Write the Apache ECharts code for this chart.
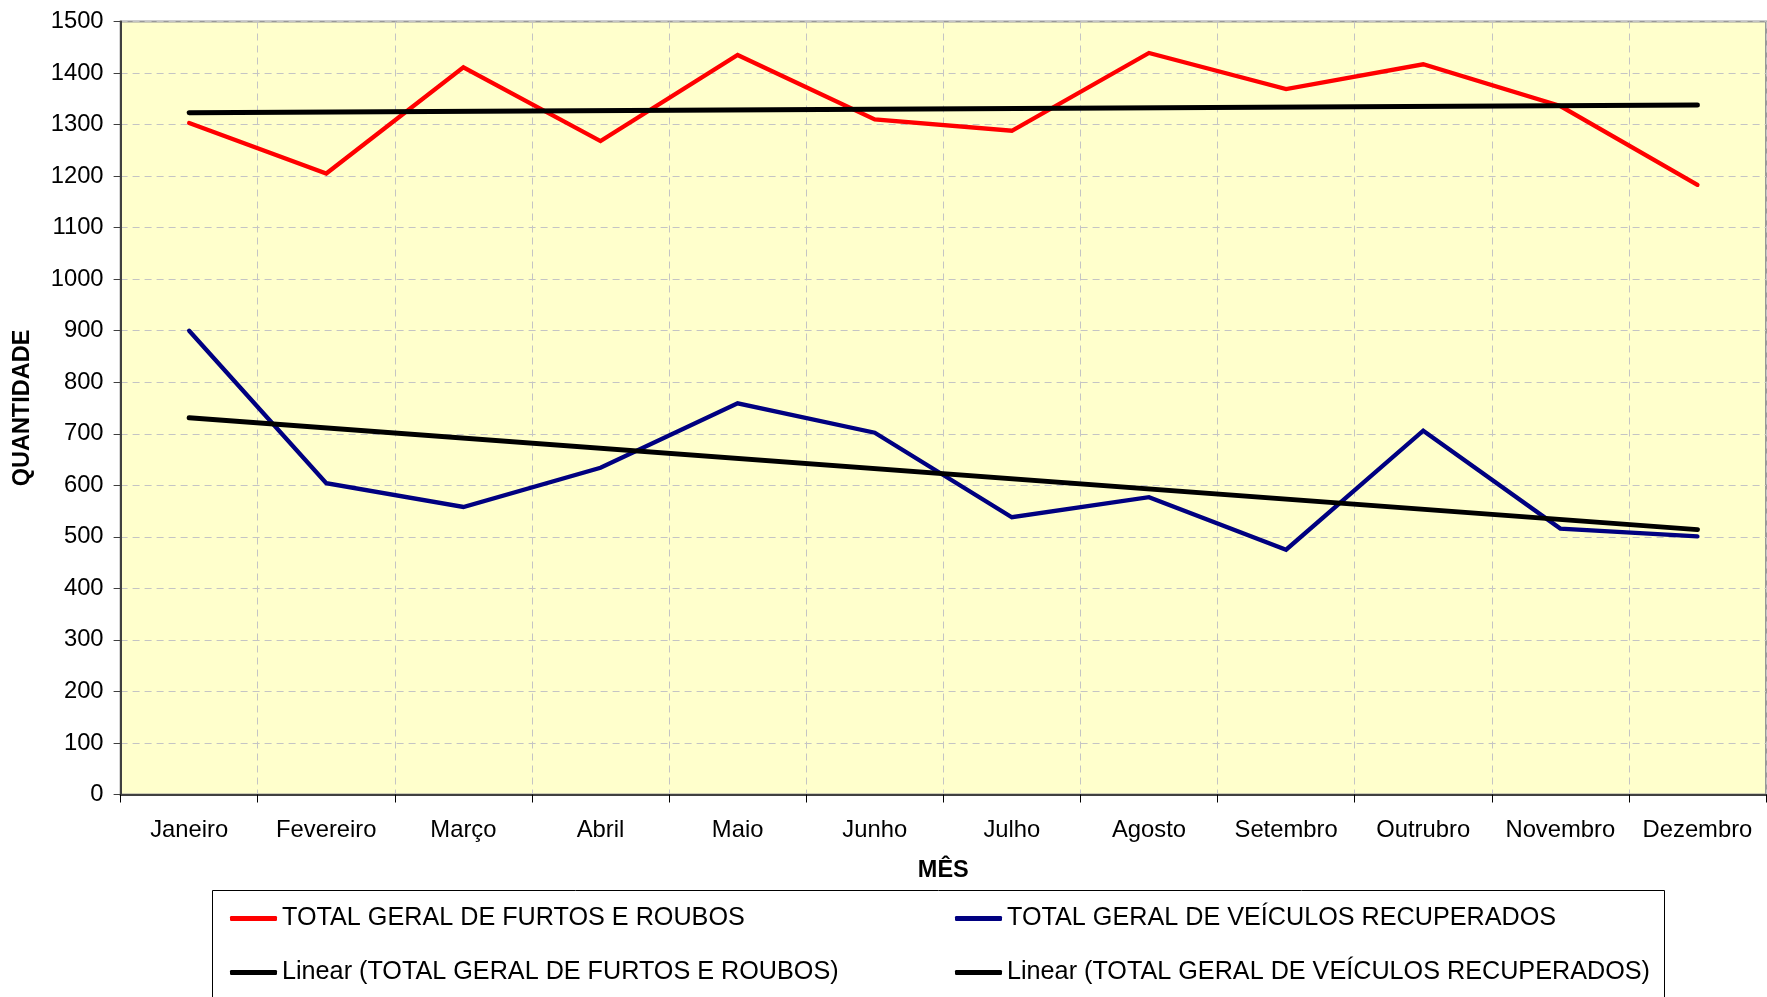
<!DOCTYPE html>
<html>
<head>
<meta charset="utf-8">
<script src="https://cdn.jsdelivr.net/npm/echarts@6/dist/echarts.min.js"></script>
<style>
html,body{margin:0;padding:0;background:#fff;}
#chart{width:1767px;height:997px;}
</style>
</head>
<body>
<div id="chart"></div>
<script>
const months = ['Janeiro','Fevereiro','Março','Abril','Maio','Junho','Julho','Agosto','Setembro','Outrubro','Novembro','Dezembro'];
const furtosRoubos = [1303,1205,1411,1268,1435,1310,1288,1439,1369,1417,1336,1183];
const veiculosRecuperados = [900,604,558,634,759,702,538,577,475,706,516,501];
// trend line endpoints (Janeiro, Dezembro)
const trendFurtos = [1323,1338];
const trendRecuperados = [731,514];
const yTicks = {min:0, max:1500, interval:100};

const nameA = 'TOTAL GERAL DE FURTOS E ROUBOS';
const nameB = 'TOTAL GERAL DE VEÍCULOS RECUPERADOS';
const nameTA = 'Linear (TOTAL GERAL DE FURTOS E ROUBOS)';
const nameTB = 'Linear (TOTAL GERAL DE VEÍCULOS RECUPERADOS)';

const FONT = 'Liberation Sans, Arial, sans-serif';
const chart = echarts.init(document.getElementById('chart'), null, {renderer:'canvas'});
const last = months.length - 1;

const legendCommon = {
  orient:'vertical', top:904.5, padding:0, itemWidth:47, itemHeight:5, itemGap:26, icon:'roundRect',
  selectedMode:false,
  textStyle:{fontFamily:FONT, fontSize:25.2, color:'#000', lineHeight:28}
};

chart.setOption({
  animation:false,
  backgroundColor:'#ffffff',
  grid:{left:120.6, right:1, top:21.5, bottom:202.5, show:true, backgroundColor:'#FFFFCC', borderColor:'#999999', borderWidth:2},
  xAxis:{
    type:'category', data:months, boundaryGap:true,
    name:'MÊS', nameLocation:'middle', nameGap:64,
    nameTextStyle:{fontFamily:FONT, fontSize:23.5, fontWeight:'bold', color:'#000'},
    axisLine:{lineStyle:{color:'#404040', width:2}},
    axisTick:{show:true, length:8, lineStyle:{color:'#000', width:1}},
    axisLabel:{fontFamily:FONT, fontSize:23.8, color:'#000', margin:24, interval:0},
    splitLine:{show:true, lineStyle:{color:'#c4c4c4', type:[7,5], width:1}}
  },
  yAxis:{
    type:'value', min:yTicks.min, max:yTicks.max, interval:yTicks.interval,
    name:'QUANTIDADE', nameLocation:'middle', nameGap:86,
    nameTextStyle:{fontFamily:FONT, fontSize:23.5, fontWeight:'bold', color:'#000'},
    axisLine:{show:true, lineStyle:{color:'#404040', width:2}},
    axisTick:{show:true, length:7, lineStyle:{color:'#404040', width:1}},
    axisLabel:{fontFamily:FONT, fontSize:23.8, color:'#000', margin:17, formatter:function(v){return String(v);}},
    splitLine:{show:true, lineStyle:{color:'#c4c4c4', type:[7,5], width:1}}
  },
  legend:[
    Object.assign({left:230, data:[nameA, nameTA]}, legendCommon),
    Object.assign({left:955, data:[nameB, nameTB]}, legendCommon)
  ],
  graphic:[{
    type:'rect', z:100, silent:true,
    shape:{x:212.5, y:890.5, width:1452, height:160},
    style:{fill:'none', stroke:'#000', lineWidth:1}
  }],
  series:[
    {name:nameA, type:'line', data:furtosRoubos, symbol:'none',
     lineStyle:{color:'#FF0000', width:4.3, cap:'round', join:'miter'}, itemStyle:{color:'#FF0000'}, z:2},
    {name:nameB, type:'line', data:veiculosRecuperados, symbol:'none',
     lineStyle:{color:'#000080', width:4.3, cap:'round', join:'miter'}, itemStyle:{color:'#000080'}, z:2},
    {name:nameTA, type:'line', data:[[0,trendFurtos[0]],[last,trendFurtos[1]]], symbol:'none',
     lineStyle:{color:'#000000', width:5, cap:'round'}, itemStyle:{color:'#000000'}, z:3},
    {name:nameTB, type:'line', data:[[0,trendRecuperados[0]],[last,trendRecuperados[1]]], symbol:'none',
     lineStyle:{color:'#000000', width:5, cap:'round'}, itemStyle:{color:'#000000'}, z:3}
  ]
});
</script>
</body>
</html>
